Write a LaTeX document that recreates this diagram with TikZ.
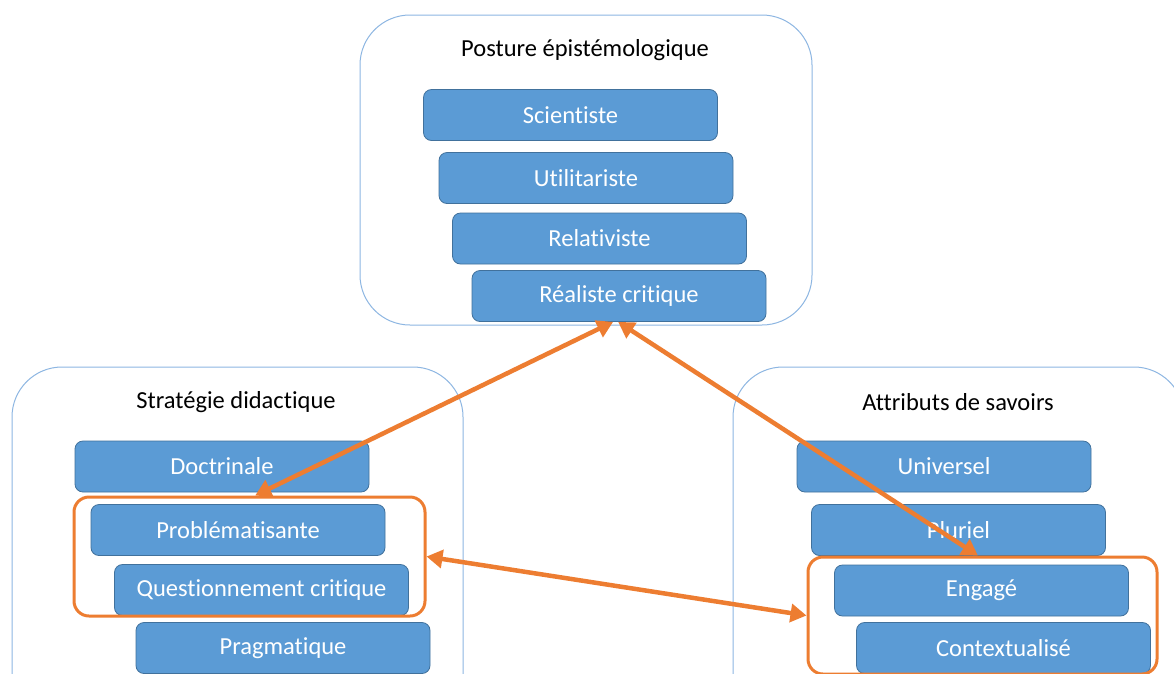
\documentclass[tikz,border=0pt]{standalone}
\usepackage{fontspec}
\setmainfont{Carlito}[RawFeature={-liga}]
\usetikzlibrary{arrows.meta,calc}
\definecolor{boxblue}{HTML}{5B9BD5}
\definecolor{boxedge}{HTML}{41719C}
\definecolor{contedge}{HTML}{8DB6E2}
\definecolor{accent}{HTML}{ED7D31}
\tikzset{
  container/.style={draw=contedge, line width=1pt, rounded corners=50pt, fill=white},
  heading/.style={text=black, font=\fontsize{24.5}{28}\selectfont, inner sep=0pt},
  bluebox/.style={draw=boxedge, line width=0.8pt, fill=boxblue, rounded corners=8pt,
    text=white, font=\fontsize{24.5}{28}\selectfont, minimum width=294pt, minimum height=51pt, inner sep=0pt},
  grouprect/.style={draw=accent, line width=3pt, rounded corners=15pt},
  link/.style={draw=accent, line width=4.5pt, {Triangle[length=16pt,width=18pt]}-{Triangle[length=16pt,width=18pt]}}
}
\begin{document}
\begin{tikzpicture}[x=1pt,y=-1pt]
\useasboundingbox (0,0) rectangle (1174,673);
\begin{scope}
\clip (0,0) rectangle (1174,673);
% containers
\node[container, minimum width=452pt, minimum height=310pt] (cposture) at (586,170) {};
\node[container, minimum width=451pt, minimum height=360pt] (cstrat) at (237.5,547) {};
\node[container, minimum width=451pt, minimum height=360pt] (cattr) at (958.5,547) {};
% headings
\node[heading] (tposture) at (585,50) {Posture épistémologique};
\node[heading] (tstrat) at (236,402) {Stratégie didactique};
\node[heading] (tattr) at (958,402) {Attributs de savoirs};
% posture boxes
\node[bluebox] (sci) at (570.5,115) {Scientiste};
\node[bluebox] (uti) at (586,178) {Utilitariste};
\node[bluebox] (rel) at (599.5,238.5) {Relativiste};
\node[bluebox] (rea) at (619,296) {Réaliste critique};
% strategy boxes
\node[bluebox] (doc) at (222,466.5) {Doctrinale};
\node[bluebox] (pro) at (238,530) {Problématisante};
\node[bluebox] (que) at (261.5,590) {Questionnement critique};
\node[bluebox] (pra) at (283,648) {Pragmatique};
% attribute boxes
\node[bluebox] (uni) at (944,466.5) {Universel};
\node[bluebox] (plu) at (958.5,530) {Pluriel};
\node[bluebox] (eng) at (981.5,590.5) {Engagé};
\node[bluebox] (con) at (1003.5,648) {Contextualisé};
% orange group rectangles
\node[grouprect, minimum width=351pt, minimum height=119pt] (gstrat) at (249.5,556.5) {};
\node[grouprect, minimum width=349pt, minimum height=117pt] (gattr) at (982.5,615.5) {};
% links
\coordinate (reaL) at ($(rea.south west)!0.48!(rea.south east)$);
\coordinate (reaR) at ($(rea.south west)!0.497!(rea.south east)$);
\coordinate (gstratT) at ($(gstrat.north west)!0.516!(gstrat.north east)$);
\coordinate (gattrT) at ($(gattr.north west)!0.487!(gattr.north east)$);
\draw[link] (reaL) -- (gstratT);
\draw[link] (reaR) -- (gattrT);
\draw[link] (gstrat.east) -- (gattr.west);
\end{scope}
\end{tikzpicture}
\end{document}
